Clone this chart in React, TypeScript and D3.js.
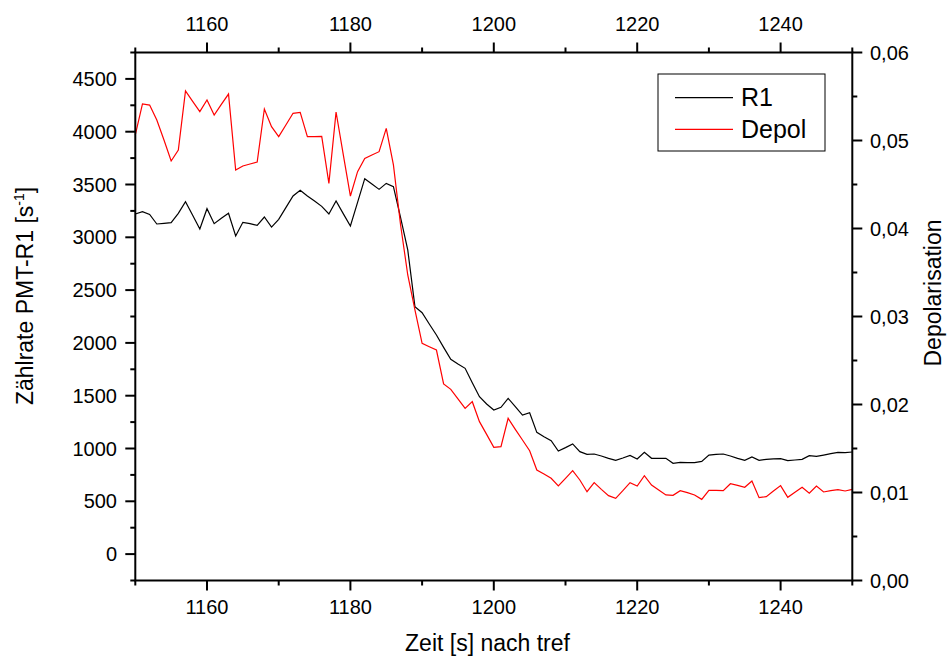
import React from 'react';
import * as d3 from 'd3';

const time: number[] = d3.range(1150, 1251, 1);

const r1: number[] = [
  3221, 3243, 3217, 3126, 3132, 3139, 3227, 3337, 3208, 3079,
  3271, 3129, 3180, 3227, 3012, 3142, 3129, 3113, 3192, 3097,
  3170, 3281, 3391, 3445, 3391, 3344, 3293, 3221, 3344, 3224,
  3107, 3331, 3555, 3505, 3454, 3511, 3479, 3186, 2880, 2343,
  2286, 2179, 2075, 1958, 1844, 1800, 1759, 1623, 1491, 1421,
  1365, 1390, 1475, 1396, 1317, 1339, 1153, 1112, 1074, 976,
  1008, 1043, 970, 945, 948, 929, 907, 888, 910, 935,
  901, 964, 907, 907, 907, 860, 869, 867, 866, 878,
  938, 945, 948, 929, 907, 888, 920, 888, 897, 901,
  904, 885, 891, 897, 932, 926, 938, 951, 964, 961,
  967,
];

const depol: number[] = [
  0.05063, 0.05415, 0.05403, 0.05233, 0.05006, 0.04767, 0.04892, 0.05563, 0.05445, 0.05328,
  0.0546, 0.0529, 0.05411, 0.05528, 0.04665, 0.0471, 0.04733, 0.04756, 0.05358, 0.05157,
  0.05044, 0.05176, 0.05309, 0.0532, 0.05044, 0.05044, 0.05047, 0.04513, 0.05324, 0.04843,
  0.04369, 0.04646, 0.04797, 0.04835, 0.04873, 0.05138, 0.04722, 0.0404, 0.03472, 0.03074,
  0.02695, 0.02657, 0.02619, 0.02233, 0.02172, 0.02063, 0.01956, 0.02032, 0.01805, 0.01661,
  0.01513, 0.01521, 0.01843, 0.01718, 0.01597, 0.01475, 0.01256, 0.0121, 0.01161, 0.01074,
  0.01161, 0.01248, 0.01142, 0.01009, 0.01112, 0.01036, 0.00964, 0.00934, 0.01021, 0.01112,
  0.01074, 0.01191, 0.01085, 0.01028, 0.00972, 0.00968, 0.01021, 0.00998, 0.00972, 0.00922,
  0.01025, 0.01025, 0.01021, 0.011, 0.01081, 0.01059, 0.01131, 0.00941, 0.00953, 0.01017,
  0.01078, 0.00945, 0.01002, 0.01059, 0.00991, 0.01074, 0.01006, 0.01021, 0.01032, 0.01017,
  0.01036,
];

const xMajorTicks = [1160, 1180, 1200, 1220, 1240];
const xMinorTicks = [1150, 1170, 1190, 1210, 1230, 1250];
const leftMajorTicks = [0, 500, 1000, 1500, 2000, 2500, 3000, 3500, 4000, 4500];
const leftMinorTicks = [-250, 250, 750, 1250, 1750, 2250, 2750, 3250, 3750, 4250, 4750];
const rightMajorTicks = [0, 0.01, 0.02, 0.03, 0.04, 0.05, 0.06];
const rightMinorTicks = [0.005, 0.015, 0.025, 0.035, 0.045, 0.055];

const seriesNames = ['R1', 'Depol'];
const seriesColors = ['#000000', '#ff0000'];

const W = 947;
const H = 659;
const FONT = "'Liberation Sans', Arial, Helvetica, sans-serif";

export default function App() {
  const x0 = 135.3, x1 = 852.3, yTop = 52.5, yBot = 580.5;
  const x = d3.scaleLinear().domain([1150, 1250]).range([x0, x1]);
  const yL = d3.scaleLinear().domain([-250, 4750]).range([yBot, yTop]);
  const yR = d3.scaleLinear().domain([0, 0.06]).range([yBot, yTop]);

  const locale = d3.formatLocale({ decimal: ',', thousands: '.', grouping: [3], currency: ['', '€'] });
  const fmtR = locale.format('.2f');

  const lineR1 = d3.line<number>().x((_, i) => x(time[i])).y(d => yL(d));
  const lineDep = d3.line<number>().x((_, i) => x(time[i])).y(d => yR(d));

  const major = 10, minor = 5;

  return (
    <svg width={W} height={H} style={{ position: 'absolute', left: 0, top: 0, background: '#fff' }} fontFamily={FONT}>
      <rect x={0} y={0} width={W} height={H} fill="#fff" />
      {/* data lines */}
      <path d={lineR1(r1) || ''} fill="none" stroke={seriesColors[0]} strokeWidth={1.2} strokeLinejoin="miter" />
      <path d={lineDep(depol) || ''} fill="none" stroke={seriesColors[1]} strokeWidth={1.2} strokeLinejoin="miter" />

      {/* frame */}
      <rect x={x0} y={yTop} width={x1 - x0} height={yBot - yTop} fill="none" stroke="#000" strokeWidth={2} />

      {/* bottom & top ticks */}
      {xMajorTicks.map(t => (
        <g key={'xm' + t}>
          <line x1={x(t)} x2={x(t)} y1={yBot} y2={yBot + major} stroke="#000" strokeWidth={2} />
          <line x1={x(t)} x2={x(t)} y1={yTop} y2={yTop - major} stroke="#000" strokeWidth={2} />
          <text x={x(t)} y={614} fontSize={20} textAnchor="middle">{t}</text>
          <text x={x(t)} y={31} fontSize={20} textAnchor="middle">{t}</text>
        </g>
      ))}
      {xMinorTicks.map(t => (
        <g key={'xn' + t}>
          <line x1={x(t)} x2={x(t)} y1={yBot} y2={yBot + minor} stroke="#000" strokeWidth={2} />
          <line x1={x(t)} x2={x(t)} y1={yTop} y2={yTop - minor} stroke="#000" strokeWidth={2} />
        </g>
      ))}

      {/* left ticks */}
      {leftMajorTicks.map(v => (
        <g key={'lm' + v}>
          <line x1={x0} x2={x0 - major} y1={yL(v)} y2={yL(v)} stroke="#000" strokeWidth={2} />
          <text x={117} y={yL(v) + 7} fontSize={20} textAnchor="end">{v}</text>
        </g>
      ))}
      {leftMinorTicks.map(v => (
        <line key={'ln' + v} x1={x0} x2={x0 - minor} y1={yL(v)} y2={yL(v)} stroke="#000" strokeWidth={2} />
      ))}

      {/* right ticks */}
      {rightMajorTicks.map(v => (
        <g key={'rm' + v}>
          <line x1={x1} x2={x1 + major} y1={yR(v)} y2={yR(v)} stroke="#000" strokeWidth={2} />
          <text x={870} y={yR(v) + 7} fontSize={20} textAnchor="start">{fmtR(v)}</text>
        </g>
      ))}
      {rightMinorTicks.map(v => (
        <line key={'rn' + v} x1={x1} x2={x1 + minor} y1={yR(v)} y2={yR(v)} stroke="#000" strokeWidth={2} />
      ))}

      {/* axis titles */}
      <text x={487.5} y={651} fontSize={23} textAnchor="middle">Zeit [s] nach tref</text>
      <text transform="translate(33,296) rotate(-90)" fontSize={23} textAnchor="middle">
        Zählrate PMT-R1 [s<tspan fontSize={14} dy={-9}>-1</tspan><tspan dy={9}>]</tspan>
      </text>
      <text transform="translate(941,293) rotate(-90)" fontSize={23} textAnchor="middle">Depolarisation</text>

      {/* legend */}
      <rect x={658} y={74} width={167} height={77} fill="#fff" stroke="#000" strokeWidth={1} />
      {seriesNames.map((n, i) => (
        <g key={n}>
          <line x1={675} x2={733} y1={97.7 + i * 31.6} y2={97.7 + i * 31.6} stroke={seriesColors[i]} strokeWidth={1.2} />
          <text x={741} y={106 + i * 31.6} fontSize={25}>{n}</text>
        </g>
      ))}
    </svg>
  );
}
